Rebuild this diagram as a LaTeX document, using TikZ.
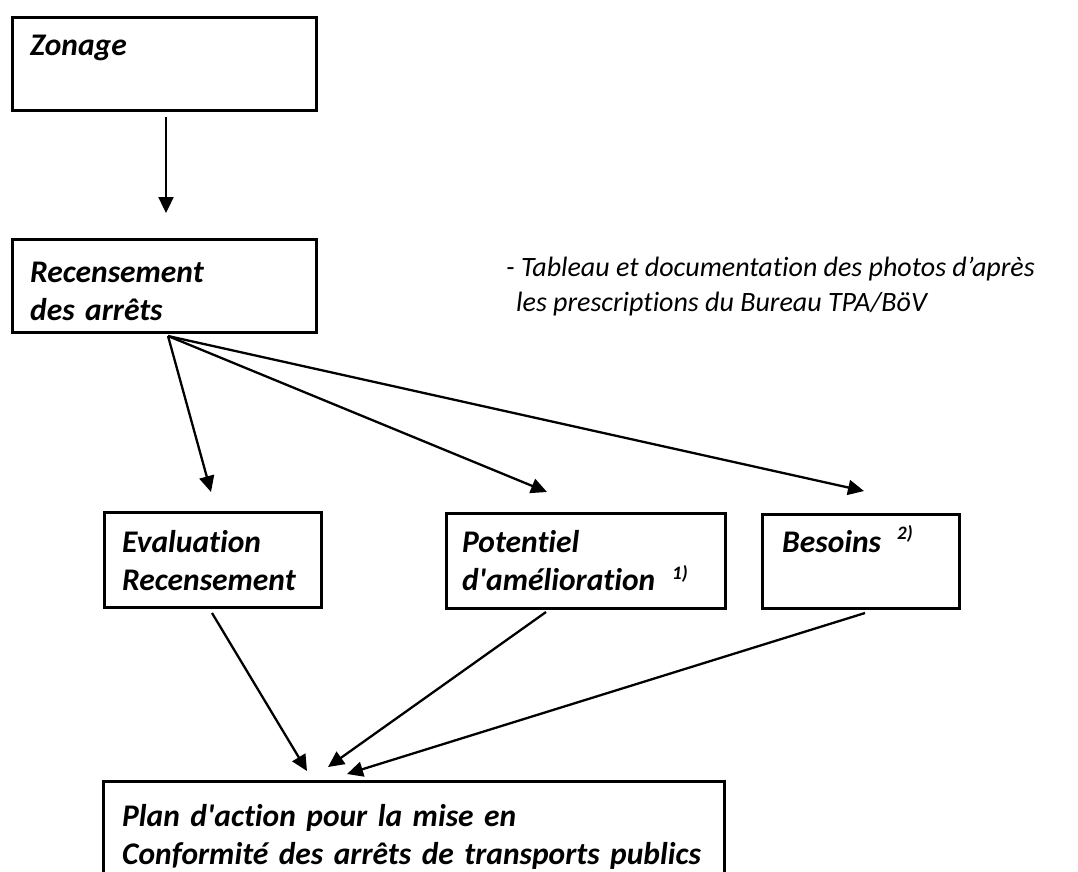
\documentclass[tikz,border=0pt]{standalone}
\usepackage{fontspec}
\setmainfont{Carlito}[Ligatures={NoCommon,TeXOff}]
\usetikzlibrary{arrows.meta}
\tikzset{
  box/.style={draw, line width=3pt, rectangle, inner sep=0pt, anchor=north west},
  lbl/.style={font=\fontsize{31.5}{38}\selectfont\bfseries\itshape, anchor=base west,
    inner sep=0pt, text width=700pt, align=left},
  note/.style={font=\fontsize{28}{35}\selectfont\itshape, anchor=base west, inner sep=0pt},
  supmark/.style={font=\fontsize{19}{19}\selectfont\bfseries\itshape, anchor=base west, inner sep=0pt},
  flow/.style={line width=2.3pt, -{Triangle[length=16pt,width=15pt]}}
}
\begin{document}
\begin{tikzpicture}[x=1pt,y=-1pt]
  \useasboundingbox (0,0) rectangle (1078,871);
  \clip (0,0) rectangle (1078,871);
  % boxes
  \node[box, minimum width=304pt, minimum height=93pt] (zon) at (11,16) {};
  \node[box, minimum width=304pt, minimum height=93pt] (rec) at (11,238) {};
  \node[box, minimum width=217pt, minimum height=95pt] (eva) at (103,511) {};
  \node[box, minimum width=279pt, minimum height=95pt] (pot) at (445,512) {};
  \node[box, minimum width=197pt, minimum height=94pt] (bes) at (761,513) {};
  \node[box, minimum width=621pt, minimum height=150pt] (plan) at (102,780) {};
  % texts
  \node[lbl] (zon-t) at (30,55) {Zonage};
  \node[lbl] (rec-t) at (30,282) {Recensement\\des arrêts};
  \node[lbl] (eva-t) at (122,552) {Evaluation\\Recensement};
  \node[lbl] (pot-t) at (462,552) {Potentiel\\d'amélioration};
  \node[supmark] (pot-s) at (672,579) {1)};
  \node[lbl] (bes-t) at (782,552) {Besoins};
  \node[supmark] (bes-s) at (897,539) {2)};
  \node[lbl] (plan-t) at (122,826) {Plan d'action pour la mise en\\Conformité des arrêts de transports publics};
  \node[note] (rec-n1) at (506,276) {- Tableau et documentation des photos d’après};
  \node[note] (rec-n2) at (516,311) {les prescriptions du Bureau TPA/BöV};
  % connector ends
  \coordinate (zon-out) at (166,117);
  \coordinate (rec-in) at (166,213);
  \coordinate (rec-out) at (168,336);
  \coordinate (eva-in) at (211,492);
  \coordinate (pot-in) at (547,492);
  \coordinate (bes-in) at (864,491);
  \coordinate (eva-out) at (212,613);
  \coordinate (pot-out) at (546,612);
  \coordinate (bes-out) at (865,613);
  \coordinate (plan-in1) at (307,771);
  \coordinate (plan-in2) at (328,767);
  \coordinate (plan-in3) at (347,774);
  \begin{scope}[flow]
    \draw (zon-out) to (rec-in);
    \draw (rec-out) to (eva-in);
    \draw (rec-out) to (pot-in);
    \draw (rec-out) to (bes-in);
    \draw (eva-out) to (plan-in1);
    \draw (pot-out) to (plan-in2);
    \draw (bes-out) to (plan-in3);
  \end{scope}
\end{tikzpicture}
\end{document}
